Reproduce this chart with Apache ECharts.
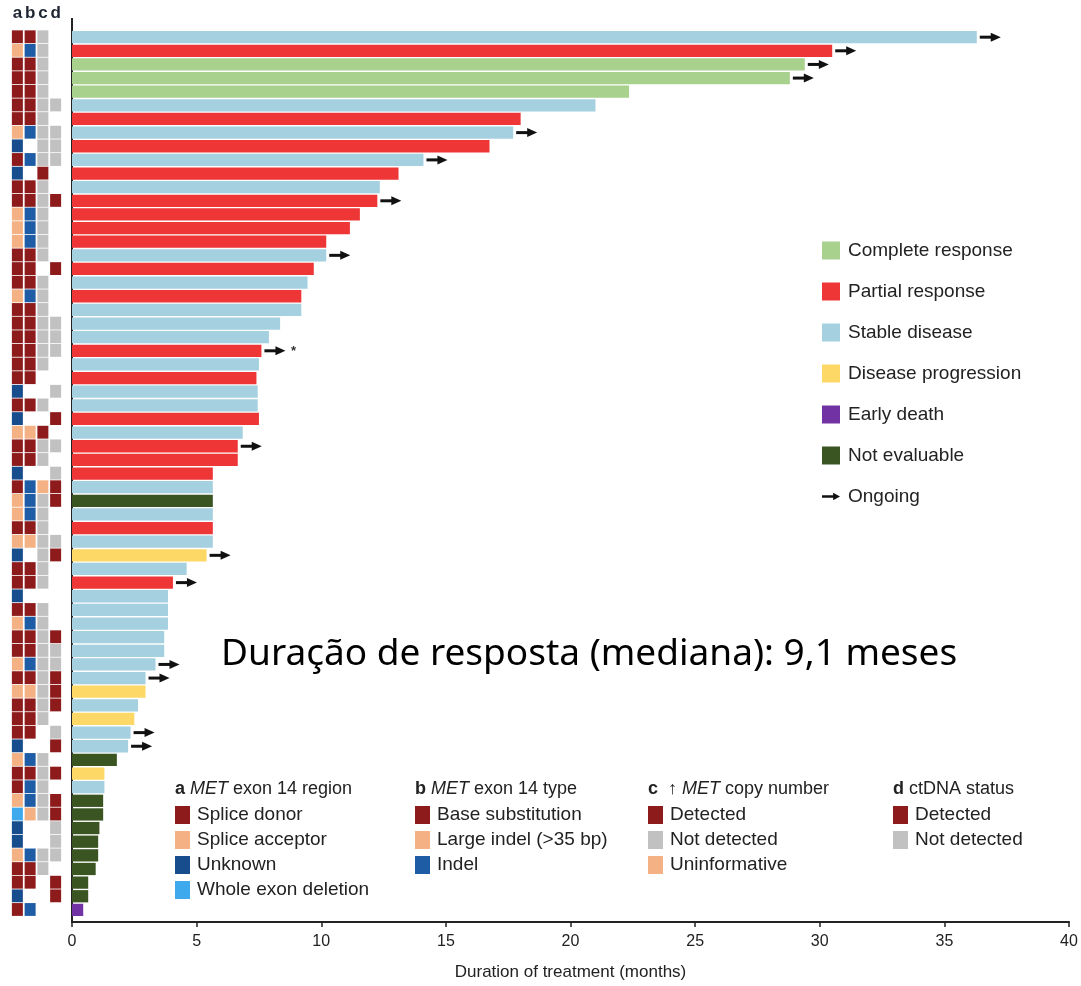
<!DOCTYPE html>
<html>
<head>
<meta charset="utf-8">
<script src="https://cdn.jsdelivr.net/npm/echarts@6/dist/echarts.min.js"></script>
<style>
  html, body { margin: 0; padding: 0; background: #fff; }
  #chart { width: 1081px; height: 986px; }
</style>
</head>
<body>
<div id="chart"></div>
<script>
// duration of treatment per patient (months), top row first
const durations = [36.3, 30.5, 29.4, 28.8, 22.35, 21.0, 18.0, 17.7, 16.75, 14.1,
  13.1, 12.35, 12.25, 11.55, 11.15, 10.2, 10.2, 9.7, 9.45, 9.2,
  9.2, 8.35, 7.9, 7.6, 7.5, 7.4, 7.45, 7.45, 7.5, 6.85,
  6.65, 6.65, 5.65, 5.65, 5.65, 5.65, 5.65, 5.65, 5.4, 4.6,
  4.05, 3.85, 3.85, 3.85, 3.7, 3.7, 3.35, 2.95, 2.95, 2.65,
  2.5, 2.35, 2.25, 1.8, 1.3, 1.3, 1.25, 1.25, 1.1, 1.05,
  1.05, 0.95, 0.65, 0.65, 0.45];

// best response per patient
const response = ['SD', 'PR', 'CR', 'CR', 'CR', 'SD', 'PR', 'SD', 'PR', 'SD',
  'PR', 'SD', 'PR', 'PR', 'PR', 'PR', 'SD', 'PR', 'SD', 'PR',
  'SD', 'SD', 'SD', 'PR', 'SD', 'PR', 'SD', 'SD', 'PR', 'SD',
  'PR', 'PR', 'PR', 'SD', 'NE', 'SD', 'PR', 'SD', 'PD', 'SD',
  'PR', 'SD', 'SD', 'SD', 'SD', 'SD', 'SD', 'SD', 'PD', 'SD',
  'PD', 'SD', 'SD', 'NE', 'PD', 'SD', 'NE', 'NE', 'NE', 'NE',
  'NE', 'NE', 'NE', 'NE', 'ED'];

// rows still on treatment, and the one flagged with *
const ongoing = [0, 1, 2, 3, 7, 9, 12, 16, 23, 30, 38, 40, 46, 47, 51, 52];
const starred = [23];

// annotation columns (D dark red, S salmon, K unknown, I indel, W whole exon, G grey, '' none)
const colA = ['D', 'S', 'D', 'D', 'D', 'D', 'D', 'S', 'K', 'D',
  'K', 'D', 'D', 'S', 'S', 'S', 'D', 'D', 'D', 'S',
  'D', 'D', 'D', 'D', 'D', 'D', 'K', 'D', 'K', 'S',
  'D', 'D', 'K', 'D', 'S', 'S', 'D', 'S', 'K', 'D',
  'D', 'K', 'D', 'S', 'D', 'D', 'S', 'D', 'S', 'D',
  'D', 'D', 'K', 'S', 'D', 'D', 'S', 'W', 'K', 'K',
  'S', 'D', 'D', 'K', 'D'];
const colB = ['D', 'I', 'D', 'D', 'D', 'D', 'D', 'I', '', 'I',
  '', 'D', 'D', 'I', 'I', 'I', 'D', 'D', 'D', 'I',
  'D', 'D', 'D', 'D', 'D', 'D', '', 'D', '', 'S',
  'D', 'D', '', 'I', 'I', 'I', 'D', 'S', '', 'D',
  'D', '', 'D', 'I', 'D', 'D', 'I', 'D', 'S', 'D',
  'D', 'D', '', 'I', 'D', 'I', 'I', 'S', '', '',
  'I', 'D', 'D', '', 'I'];
const colC = ['G', 'G', 'G', 'G', 'G', 'G', 'G', 'G', 'G', 'G',
  'D', 'G', 'G', 'G', 'G', 'G', 'G', '', 'G', 'G',
  'G', 'G', 'G', 'G', 'G', '', '', 'G', '', 'D',
  'G', 'G', '', 'S', 'G', 'G', 'G', 'G', 'G', 'G',
  'G', '', 'G', 'G', 'G', 'G', 'G', 'G', 'G', 'G',
  'G', '', '', 'G', 'G', 'G', 'G', 'G', '', '',
  'G', 'G', '', '', ''];
const colD = ['', '', '', '', '', 'G', '', 'G', 'G', 'G',
  '', '', 'D', '', '', '', '', 'D', '', '',
  '', 'G', 'G', 'G', '', '', 'G', '', 'D', '',
  'G', '', 'G', 'D', 'D', '', '', 'G', 'D', '',
  '', '', '', '', 'D', 'G', 'G', 'D', 'D', 'D',
  '', 'G', 'D', '', 'D', '', 'D', 'D', 'G', 'G',
  'G', '', 'D', 'D', ''];

const annotCols = ['a', 'b', 'c', 'd'];
const xTicks = [0, 5, 10, 15, 20, 25, 30, 35, 40];

const respCodes = ['CR', 'PR', 'SD', 'PD', 'ED', 'NE'];
const respNames = ['Complete response', 'Partial response', 'Stable disease',
  'Disease progression', 'Early death', 'Not evaluable'];
const respColors = ['#A9D18E', '#EE3636', '#A4D0E0', '#FDD866', '#7132A3', '#3A5522'];

const palette = {
  D: '#8E1B1B', S: '#F4B183', K: '#174C8D', I: '#1E5CA6', W: '#3FA9EE', G: '#C1C1C1'
};

const rowIds = durations.map((d, i) => String(i + 1));
const FONT = 'Liberation Sans, Arial, sans-serif';

let myChart = echarts.init(document.getElementById('chart'));

// one bar series per response type, stacked so each row shows one bar
let barSeries = respCodes.map((code, k) => ({
  name: respNames[k],
  type: 'bar',
  stack: 'dur',
  barCategoryGap: '10%',
  xAxisIndex: 0,
  yAxisIndex: 0,
  itemStyle: { color: respColors[k] },
  data: durations.map((d, i) => (response[i] === code ? d : '-'))
}));

let arrowData = ongoing.map(i => [durations[i], i, starred.indexOf(i) >= 0 ? 1 : 0]);

let annotData = [];
[colA, colB, colC, colD].forEach((col, c) => {
  col.forEach((code, r) => {
    if (code) annotData.push({ value: [c, r], itemStyle: { color: palette[code] } });
  });
});

// legend below the bars for the annotation columns
const annotLegend = [
  { title: '{b|a} {i|MET} exon 14 region',
    items: [['Splice donor', 'D'], ['Splice acceptor', 'S'], ['Unknown', 'K'], ['Whole exon deletion', 'W']] },
  { title: '{b|b} {i|MET} exon 14 type',
    items: [['Base substitution', 'D'], ['Large indel (>35 bp)', 'S'], ['Indel', 'I']] },
  { title: '{b|c}  \u2191 {i|MET} copy number',
    items: [['Detected', 'D'], ['Not detected', 'G'], ['Uninformative', 'S']] },
  { title: '{b|d} ctDNA status',
    items: [['Detected', 'D'], ['Not detected', 'G']] }
];
const annotLegendX = [175, 415, 648, 893];

let graphics = [
  // y axis line
  { type: 'line', shape: { x1: 72, y1: 18, x2: 72, y2: 923 }, style: { stroke: '#222', lineWidth: 2 } },
  {
    type: 'text', left: 221, top: 636,
    style: { text: 'Duração de resposta (mediana): 9,1 meses', fontSize: 37, fontFamily: 'Noto Sans, Open Sans, sans-serif', fill: '#000' }
  }
];
annotLegend.forEach((g, k) => {
  let x = annotLegendX[k];
  graphics.push({
    type: 'text', x: x, y: 789,
    style: {
      text: g.title, fontSize: 18, fontFamily: FONT, fill: '#222', verticalAlign: 'middle',
      rich: {
        b: { fontWeight: 'bold', fontSize: 18, fontFamily: FONT, fill: '#222' },
        i: { fontStyle: 'italic', fontSize: 18, fontFamily: FONT, fill: '#222' }
      }
    }
  });
  g.items.forEach((it, j) => {
    let y = 815 + j * 25;
    graphics.push({ type: 'rect', shape: { x: x, y: y - 9, width: 15, height: 18 }, style: { fill: palette[it[1]] } });
    graphics.push({
      type: 'text', x: x + 22, y: y,
      style: { text: it[0], fontSize: 19, fontFamily: FONT, fill: '#222', verticalAlign: 'middle' }
    });
  });
});

let option = {
  animation: false,
  backgroundColor: '#fff',
  textStyle: { fontFamily: FONT },
  grid: [
    { left: 72, right: 12, top: 30.35, height: 886.35 },
    { left: 11, width: 51, top: 30.35, height: 886.35 }
  ],
  legend: {
    orient: 'vertical',
    left: 822,
    top: 241,
    padding: 0,
    itemWidth: 18,
    itemHeight: 18,
    itemGap: 22,
    icon: 'rect',
    textStyle: { fontSize: 19, color: '#222', padding: [0, 0, 0, 3] },
    data: respNames.map(n => ({ name: n })).concat([
      { name: 'Ongoing', icon: 'path://M0,3 L13,3 L13,0 L21,4.5 L13,9 L13,6 L0,6 Z' }
    ])
  },
  xAxis: [
    {
      type: 'value', gridIndex: 0, min: 0, max: 40, interval: 5, offset: 5.3,
      splitLine: { show: false },
      axisLine: { show: true, lineStyle: { color: '#222', width: 2 } },
      axisTick: { show: true, length: 5, lineStyle: { color: '#222', width: 1.5 } },
      axisLabel: { fontSize: 16, color: '#222', margin: 12,
        formatter: v => (xTicks.indexOf(v) >= 0 ? String(v) : '') },
      name: 'Duration of treatment (months)',
      nameLocation: 'middle',
      nameGap: 42,
      nameTextStyle: { fontSize: 17, color: '#222' }
    },
    {
      type: 'category', gridIndex: 1, position: 'top', data: annotCols,
      axisLine: { show: false }, axisTick: { show: false },
      axisLabel: { interval: 0, hideOverlap: false, fontSize: 17, fontWeight: 'bold', color: '#1d2430', margin: 9 }
    }
  ],
  yAxis: [
    { type: 'category', gridIndex: 0, data: rowIds, inverse: true,
      axisLine: { show: false }, axisTick: { show: false }, axisLabel: { show: false } },
    { type: 'category', gridIndex: 1, data: rowIds, inverse: true,
      axisLine: { show: false }, axisTick: { show: false }, axisLabel: { show: false } }
  ],
  series: barSeries.concat([
    {
      name: 'Ongoing',
      type: 'custom',
      xAxisIndex: 0,
      yAxisIndex: 0,
      itemStyle: { color: '#111' },
      encode: { x: 0, y: 1 },
      data: arrowData,
      renderItem: function (params, api) {
        let p = api.coord([api.value(0), api.value(1)]);
        let x = p[0], y = p[1];
        let kids = [
          { type: 'line', shape: { x1: x + 3, y1: y, x2: x + 16, y2: y }, style: { stroke: '#111', lineWidth: 3 } },
          { type: 'polygon', shape: { points: [[x + 14, y - 4.5], [x + 24, y], [x + 14, y + 4.5]] }, style: { fill: '#111' } }
        ];
        if (api.value(2) === 1) {
          kids.push({ type: 'text', x: x + 32, y: y + 1,
            style: { text: '*', fontSize: 13, fontWeight: 'bold', fill: '#333', align: 'center', verticalAlign: 'middle' } });
        }
        return { type: 'group', children: kids };
      }
    },
    {
      name: 'annot',
      type: 'custom',
      xAxisIndex: 1,
      yAxisIndex: 1,
      encode: { x: 0, y: 1 },
      data: annotData,
      renderItem: function (params, api) {
        let c = api.coord([api.value(0), api.value(1)]);
        let s = api.size([1, 1]);
        return {
          type: 'rect',
          shape: { x: c[0] - 5.5, y: c[1] - s[1] / 2, width: 11, height: s[1] - 0.8 },
          style: { fill: api.visual('color') }
        };
      }
    }
  ]),
  graphic: graphics
};

myChart.setOption(option);
window.addEventListener('resize', () => {
  myChart.resize();
});
</script>
</body>
</html>
